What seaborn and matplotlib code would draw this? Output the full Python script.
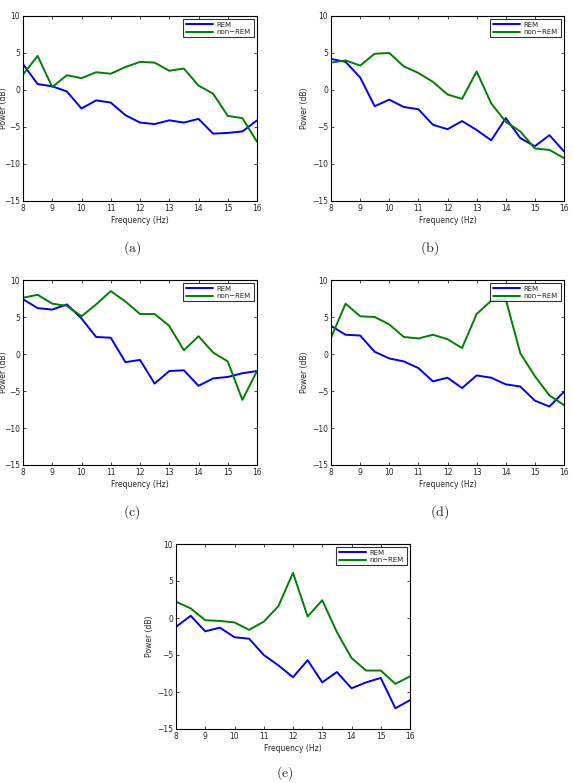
import matplotlib
matplotlib.use("Agg")
import matplotlib.pyplot as plt
import seaborn as sns
import pandas as pd

freq = [8, 8.5, 9, 9.5, 10, 10.5, 11, 11.5, 12, 12.5, 13, 13.5, 14, 14.5, 15, 15.5, 16]

rem_a = [3.5, 0.8, 0.5, -0.2, -2.5, -1.4, -1.7, -3.4, -4.4, -4.6, -4.1, -4.4, -3.9, -5.9, -5.8, -5.6, -4.1]
nrem_a = [2.1, 4.6, 0.4, 2.0, 1.6, 2.4, 2.2, 3.1, 3.8, 3.7, 2.6, 2.9, 0.6, -0.5, -3.5, -3.8, -7.0]

rem_b = [4.2, 3.8, 1.7, -2.2, -1.3, -2.3, -2.6, -4.7, -5.3, -4.2, -5.4, -6.8, -3.8, -6.5, -7.6, -6.1, -8.3]
nrem_b = [3.7, 4.0, 3.3, 4.9, 5.0, 3.2, 2.3, 1.1, -0.6, -1.2, 2.5, -1.8, -4.3, -5.6, -7.9, -8.1, -9.2]

rem_c = [7.4, 6.2, 6.0, 6.7, 4.8, 2.3, 2.2, -1.1, -0.8, -4.0, -2.3, -2.2, -4.3, -3.3, -3.1, -2.6, -2.3]
nrem_c = [7.6, 8.0, 6.8, 6.5, 5.1, 6.7, 8.5, 7.1, 5.4, 5.4, 3.8, 0.5, 2.4, 0.2, -1.0, -6.2, -2.3]

rem_d = [3.8, 2.6, 2.5, 0.3, -0.6, -1.0, -1.9, -3.7, -3.2, -4.6, -2.9, -3.2, -4.1, -4.4, -6.3, -7.1, -5.1]
nrem_d = [2.2, 6.8, 5.1, 5.0, 4.0, 2.3, 2.1, 2.6, 2.0, 0.8, 5.4, 7.2, 7.4, 0.1, -3.0, -5.6, -6.9]

rem_e = [-1.2, 0.3, -1.8, -1.3, -2.6, -2.8, -5.0, -6.4, -8.0, -5.7, -8.7, -7.3, -9.5, -8.7, -8.1, -12.2, -11.1]
nrem_e = [2.2, 1.3, -0.3, -0.4, -0.6, -1.6, -0.5, 1.6, 6.1, 0.2, 2.4, -1.9, -5.4, -7.1, -7.1, -8.9, -7.9]

panels = ["a", "b", "c", "d", "e"]
rem_all = [rem_a, rem_b, rem_c, rem_d, rem_e]
nrem_all = [nrem_a, nrem_b, nrem_c, nrem_d, nrem_e]
states = ["REM", "non\u2212REM"]

sns.set_style("ticks")
plt.rcParams["font.family"] = ["DejaVu Sans"]
plt.rcParams["mathtext.fontset"] = "cm"

W, H = 573, 783
fig = plt.figure(figsize=(W / 100, H / 100), dpi=100)
fig.patch.set_facecolor("white")

# axes boxes in pixels: left, top, right, bottom
boxes = [(23, 16, 257, 201), (331, 16, 564, 201),
         (23, 280, 257, 465), (331, 280, 564, 465),
         (176, 544, 410, 729)]
captions = [(132, 248), (430, 248), (132, 512), (440, 512), (285, 773)]

palette = {"REM": "#0000f0", "non\u2212REM": "#007f00"}

for i, p in enumerate(panels):
    l, t, r, b = boxes[i]
    ax = fig.add_axes([l / W, 1 - b / H, (r - l) / W, (b - t) / H])
    df = pd.DataFrame({
        "Frequency": freq + freq,
        "Power": rem_all[i] + nrem_all[i],
        "State": [states[0]] * len(freq) + [states[1]] * len(freq),
    })
    sns.lineplot(data=df, x="Frequency", y="Power", hue="State", palette=palette,
                 linewidth=1.4, ax=ax)
    ax.set_xlim(8, 16)
    ax.set_ylim(-15, 10)
    ax.set_xticks(range(8, 17))
    ax.set_yticks(range(-15, 11, 5))
    ax.tick_params(direction="in", length=2.5, width=0.6, labelsize=5.5, pad=2,
                   top=True, right=True)
    for s in ax.spines.values():
        s.set_visible(True)
        s.set_linewidth(0.8)
        s.set_color("black")
    ax.set_xlabel("Frequency (Hz)", fontsize=5.5, labelpad=2)
    ax.set_ylabel("Power (dB)", fontsize=5.5, labelpad=2)
    if l < 30:
        # left column: label sits right at the figure edge
        ax.yaxis.set_label_coords(-(l - 8) / (r - l), 0.5)
    leg = ax.legend(loc="upper right", fontsize=5, frameon=True, fancybox=False,
                    handlelength=4.0, handletextpad=0.5, borderpad=0.35,
                    labelspacing=0.15, borderaxespad=0.5)
    leg.get_frame().set_edgecolor("black")
    leg.get_frame().set_linewidth(0.8)
    cx, cy = captions[i]
    fig.text(cx / W, 1 - cy / H, r"$(\mathrm{%s})$" % p, ha="center", va="center",
             fontsize=10)

fig.savefig("out.png", dpi=100, facecolor="white")
